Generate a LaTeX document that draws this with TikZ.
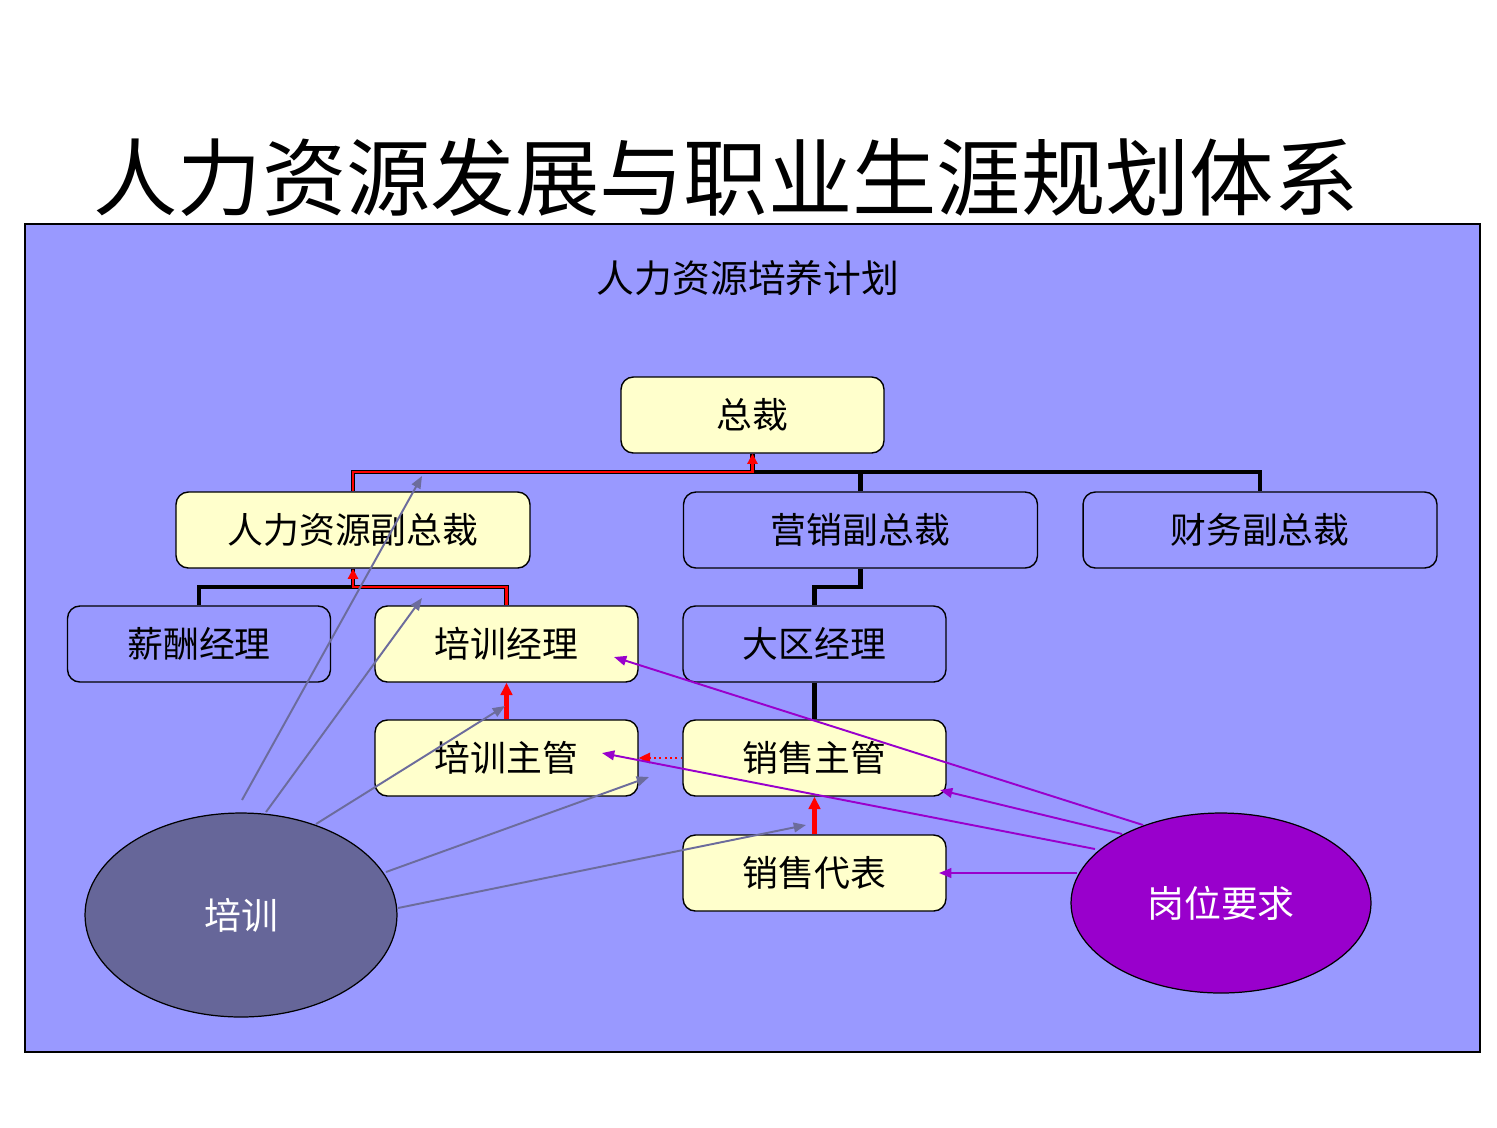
\documentclass[tikz,border=0pt]{standalone}
\usepackage{fontspec}
\setmainfont{Noto Sans CJK SC}
\usetikzlibrary{arrows.meta,shapes.geometric}
\definecolor{panel}{HTML}{9999FF}
\definecolor{boxy}{HTML}{FFFFCC}
\definecolor{trainc}{HTML}{666699}
\definecolor{grayarr}{HTML}{6C6C9C}
\definecolor{purp}{HTML}{9900CC}
\tikzset{
  orgbox/.style={draw=black, line width=0.8pt, rounded corners=7pt, minimum width=5.26cm, minimum height=1.52cm, inner sep=0pt, font=\fontsize{20.4}{22}\selectfont},
  widebox/.style={orgbox, minimum width=7.08cm},
  yel/.style={fill=boxy},
  blu/.style={fill=panel},
  tree/.style={line width=2.4pt, black},
  redout/.style={line width=2.8pt, black},
  redin/.style={line width=1.2pt, red},
  redtip/.style={-{Triangle[length=5.8pt,width=5.8pt]}},
  redthick/.style={line width=2.8pt, red, -{Triangle[length=7pt,width=6.5pt]}},
  grayline/.style={line width=1.1pt, grayarr, -{Triangle[length=7pt,width=5.5pt]}},
  purpline/.style={line width=1.1pt, purp, -{Triangle[length=7pt,width=5.5pt]}},
  blob/.style={ellipse, draw=black, line width=0.7pt, inner sep=0pt, text=white, font=\fontsize{21}{23}\selectfont}
}
\begin{document}
\begin{tikzpicture}[x=0.02cm,y=-0.02cm]
\useasboundingbox (0,0) rectangle (1497,1127);
\fill[white] (0,0) rectangle (1497,1127);
\node (title) at (726,177) {\fontsize{48}{50}\selectfont 人力资源发展与职业生涯规划体系};
\draw[fill=panel, line width=1.1pt] (25,224) rectangle (1480,1052);
\node (sub) at (748,278) {\fontsize{21.5}{23}\selectfont 人力资源培养计划};

% boxes
\node[orgbox,yel] (ceo) at (752.5,415) {总裁};
\node[widebox,yel] (hrvp) at (353,530) {人力资源副总裁};
\node[widebox,blu] (mkvp) at (860.5,530) {营销副总裁};
\node[widebox,blu] (fnvp) at (1260,530) {财务副总裁};
\node[orgbox,blu] (pay) at (199,644) {薪酬经理};
\node[orgbox,yel] (trm) at (506.5,644) {培训经理};
\node[orgbox,blu] (reg) at (814.5,644) {大区经理};
\node[orgbox,yel] (trs) at (506.5,758) {培训主管};
\node[orgbox,yel] (sls) at (814.5,758) {销售主管};
\node[orgbox,yel] (rep) at (814.5,873) {销售代表};

\node[blob, fill=trainc, minimum width=6.24cm, minimum height=4.08cm] (train) at (241,915) {培训};
\node[blob, fill=purp, minimum width=6.0cm, minimum height=3.6cm] (req) at (1221,903) {岗位要求};

% org tree
\coordinate (j1) at (ceo.south |- 0,472);
\coordinate (j2) at (hrvp.south |- 0,587);
\coordinate (j3) at (mkvp.south |- 0,587);
\draw[tree] (ceo.south) -- (j1);
\draw[tree] (hrvp.north) |- (fnvp.north |- j1) -- (fnvp.north);
\draw[tree] (mkvp.north) -- (mkvp.north |- j1);
\draw[tree] (hrvp.south) -- (j2);
\draw[tree] (pay.north) |- (trm.north |- j2) -- (trm.north);
\draw[tree] (mkvp.south) -- (j3) -| (reg.north);
\draw[tree] (reg.south) -- (sls.north);

% red promotion paths
\coordinate (c1) at (ceo.south |- 0,465);
\coordinate (c2) at (hrvp.south |- 0,580);
\draw[redout] (hrvp.north) |- (j1) -- (c1);
\draw[redin, redtip] (hrvp.north) |- (j1) -- (ceo.south);
\draw[redout] (trm.north) |- (j2) -- (c2);
\draw[redin, redtip] (trm.north) |- (j2) -- (hrvp.south);
\draw[redthick] (trs.north) -- (trm.south);
\draw[redthick] (rep.north) -- (sls.south);
\draw[red, dotted, line width=1pt, -{Triangle[length=6.5pt,width=6pt]}] (sls.west) -- (trs.east);

% training arrows
\coordinate (t1) at (242,800);
\coordinate (t2) at (266,812);
\coordinate (t3) at (316,824);
\coordinate (t4) at (386,872);
\coordinate (t5) at (398,908);
\coordinate (g1) at (422,476);
\coordinate (g2) at (422,598);
\coordinate (g3) at (505,706);
\coordinate (g4) at (649,777);
\coordinate (g5) at (806,825);
\draw[grayline] (t1) -- (g1);
\draw[grayline] (t2) -- (g2);
\draw[grayline] (t3) -- (g3);
\draw[grayline] (t4) -- (g4);
\draw[grayline] (t5) -- (g5);

% requirement arrows
\coordinate (r1) at (1143,825);
\coordinate (r2) at (1122,834);
\coordinate (r3) at (1095,849);
\coordinate (r4) at (1077,873);
\coordinate (p1) at (614,657);
\coordinate (p2) at (940,790);
\coordinate (p3) at (602,753);
\coordinate (p4) at (939,873);
\draw[purpline] (r1) -- (p1);
\draw[purpline] (r2) -- (p2);
\draw[purpline] (r3) -- (p3);
\draw[purpline] (r4) -- (p4);
\end{tikzpicture}
\end{document}
